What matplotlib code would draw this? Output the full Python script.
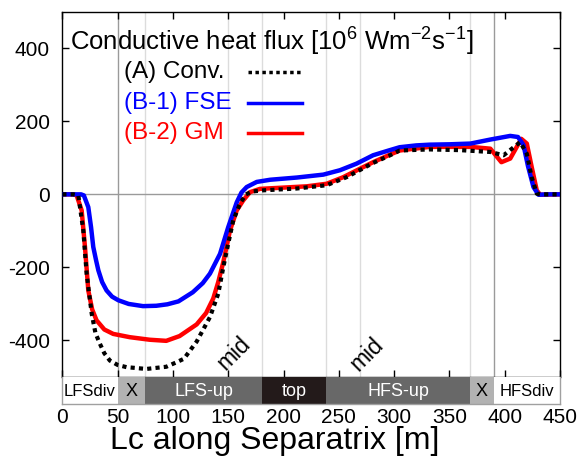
import numpy as np
import matplotlib
matplotlib.use("Agg")
import matplotlib.pyplot as plt

plt.rcParams['font.family'] = ['Liberation Sans', 'DejaVu Sans']
plt.rcParams['mathtext.fontset'] = 'custom'
plt.rcParams['mathtext.rm'] = 'Liberation Sans'
plt.rcParams['mathtext.it'] = 'Liberation Sans:italic'
plt.rcParams['axes.unicode_minus'] = False

# (A) Conv. -- black dotted
conv_x = [0, 10, 14.5, 19, 22, 26.6, 30, 34, 38, 43, 50, 58, 76, 94, 103, 110, 121.5, 133.5,
          141, 145.6, 150, 154.6, 160.7, 166, 172, 181.7, 212, 239, 257, 270, 281, 295, 305,
          332, 360, 387, 399, 414, 420, 424.4, 429, 432, 450]
conv_y = [0, 0, -3, -99, -217, -327, -380, -409, -435, -455, -467, -473, -478, -472, -460,
          -450, -403, -336, -272, -199, -135, -71, -25, 0, 8, 11, 16, 25, 47, 68, 86, 105, 120,
          123, 121, 116, 107, 143, 111, 47, 2, 0, 0]

# (B-1) FSE -- blue
fse_x = [0, 10, 17, 19.5, 23.5, 26, 28, 30.5, 32.6, 36, 40, 45, 50.7, 60, 73, 85, 95, 105,
         118, 127, 133.5, 142.6, 150, 157.7, 162, 166.7, 175.8, 188, 212, 236, 251, 266, 281,
         295, 305, 320, 332, 350, 369, 387, 405, 412, 417, 421, 426, 430.5, 440, 450]
fse_y = [0, 0, 0, -3, -35, -90, -144, -180, -208, -240, -263, -280, -290, -300, -306, -305,
         -301, -293, -268, -243, -217, -163, -90, -22, 5, 20, 34, 40, 46, 54, 66, 84, 107, 120,
         129, 134, 136, 137, 139, 150, 160, 157, 135, 78, 20, -1, 0, 0]

# (B-2) GM -- red
gm_x = [0, 10, 13, 17.5, 20.5, 23.5, 27, 31, 38, 46, 61, 79, 94, 106, 121.5, 130, 136.5, 141,
        145.6, 151.6, 157.7, 163.7, 169.7, 178.7, 197, 221, 239, 254, 269, 281, 295, 305, 332,
        369, 387, 397, 405, 415, 420, 424.4, 429, 432, 450]
gm_y = [0, 0, -3, -44, -144, -263, -315, -345, -370, -382, -391, -398, -401, -388, -356, -325,
        -285, -240, -185, -99, -44, -16, 6, 15, 18, 22, 29, 47, 70, 88, 107, 120, 130, 130, 125,
        88, 98, 152, 139, 75, 11, -1, 0]

series_labels = ['(A) Conv.', '(B-1) FSE', '(B-2) GM']
series_colors = ['black', '#0000ff', '#ff0000']

# region strip along the separatrix
region_edges = [0, 50, 74.7, 181, 238, 369, 390, 450]
region_names = ['LFSdiv', 'X', 'LFS-up', 'top', 'HFS-up', 'X', 'HFSdiv']
region_colors = ['white', '#b2b2b2', '#686868', '#231a1a', '#686868', '#b2b2b2', 'white']
region_text = ['black', 'black', 'white', 'white', 'white', 'black', 'black']
region_size = [12, 13, 13, 13, 13, 13, 12]

dark_lines = [50, 390]
light_lines = [74.7, 150, 181, 238, 269.5, 369]
mid_pos = [(155.2, -436), (275, -438)]

xticks = np.arange(0, 451, 50)
yticks = [-400, -200, 0, 200, 400]

fig = plt.figure(figsize=(5.79, 4.59), dpi=100)
ax = fig.add_axes([62.3 / 579, 1 - 377 / 459, 497.7 / 579, 365.3 / 459])
strip = fig.add_axes([62.3 / 579, 1 - 404 / 459, 497.7 / 579, 27 / 459])

for xv in dark_lines:
    ax.axvline(xv, color='#9a9a9a', lw=1, zorder=0)
for xv in light_lines:
    ax.axvline(xv, color='#dcdcdc', lw=1, zorder=0)
ax.axhline(0, color='#9a9a9a', lw=1, zorder=0)

ax.plot(fse_x, fse_y, color=series_colors[1], lw=3.2, zorder=3)
ax.plot(gm_x, gm_y, color=series_colors[2], lw=3.2, zorder=2)
ax.plot(conv_x, conv_y, color=series_colors[0], lw=3.0, ls=(0, (1, 1)), zorder=4)

ax.set_xlim(0, 450)
ax.set_ylim(-500, 500)
ax.set_xticks(xticks)
ax.set_xticklabels([])
ax.set_yticks(yticks)
ax.tick_params(direction='in', length=5, width=1, top=True, right=True,
               labelsize=15, pad=9)
for sp in ax.spines.values():
    sp.set_linewidth(1)

ax.text(0.421, 0.917, 'Conductive heat flux [10$^{\\mathrm{6}}$ Wm$^{\\mathrm{-2}}$s$^{\\mathrm{-1}}$]',
        transform=ax.transAxes, ha='center', va='center', fontsize=18.5)

for mx, my in mid_pos:
    ax.text(mx, my, 'mid', rotation=45, ha='center', va='center', fontsize=16.5)

# key: label on the left, line sample on the right
key_rows = [72, 103, 133]
key_styles = [(0, (1, 1)), '-', '-']
px_x = lambda p: (p - 62.3) / 497.7
px_y = lambda p: (377 - p) / 365.3
for row, lab, col, st in zip(key_rows, series_labels, series_colors, key_styles):
    ax.text(px_x(124), px_y(row), lab, transform=ax.transAxes, ha='left', va='center',
            color=col, fontsize=17.5)
    ax.plot([px_x(248), px_x(302)], [px_y(row), px_y(row)], transform=ax.transAxes,
            color=col, lw=2.5, ls=st)

lefts = region_edges[:-1]
widths = np.diff(region_edges)
strip.bar(lefts, [1] * len(lefts), width=widths, align='edge', color=region_colors,
          edgecolor='none')
for l, w, name, tc, fs in zip(lefts, widths, region_names, region_text, region_size):
    strip.text(l + w / 2, 0.48, name, ha='center', va='center', color=tc, fontsize=fs)
strip.set_xlim(0, 450)
strip.set_ylim(0, 1)
strip.set_yticks([])
strip.set_xticks(xticks)
strip.tick_params(axis='x', length=0, labelsize=15, pad=3)
for sp in strip.spines.values():
    sp.set_color('#a0a0a0')
    sp.set_linewidth(1)
strip.spines['top'].set_visible(False)

fig.text(275 / 579, 1 - 441 / 459, 'Lc along Separatrix [m]', ha='center', va='center',
         fontsize=23)

fig.savefig('out.png', dpi=100)
